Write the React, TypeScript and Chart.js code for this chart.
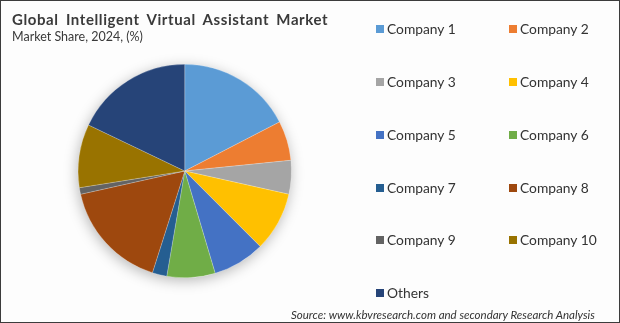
import React, { useEffect, useRef } from "react";
import { Chart, registerables } from "chart.js";

Chart.register(...registerables);

const categories = [
  "Company 1",
  "Company 2",
  "Company 3",
  "Company 4",
  "Company 5",
  "Company 6",
  "Company 7",
  "Company 8",
  "Company 9",
  "Company 10",
  "Others",
];
const shares = [17.4, 6.0, 5.1, 9.0, 7.9, 7.3, 2.2, 16.6, 1.0, 9.6, 17.9];
const colors = [
  "#5B9BD5",
  "#ED7D31",
  "#A5A5A5",
  "#FFC000",
  "#4472C4",
  "#70AD47",
  "#255E91",
  "#9E480E",
  "#636363",
  "#997300",
  "#264478",
];

const titleText = "Global Intelligent Virtual Assistant Market";
const subtitleText = "Market Share, 2024, (%)";
const sourceText = "Source: www.kbvresearch.com and secondary Research Analysis";

const shadowPlugin = {
  id: "pieShadow",
  beforeDatasetsDraw(chart: any) {
    const meta = chart.getDatasetMeta(0);
    const arc = meta.data[0];
    if (!arc) return;
    const { x, y, outerRadius } = arc.getProps(["x", "y", "outerRadius"], true);
    const ctx = chart.ctx;
    ctx.save();
    ctx.shadowColor = "rgba(0,0,0,0.28)";
    ctx.shadowBlur = 14;
    ctx.shadowOffsetX = -1;
    ctx.shadowOffsetY = 3;
    ctx.fillStyle = "#ffffff";
    ctx.beginPath();
    ctx.arc(x, y, outerRadius, 0, Math.PI * 2);
    ctx.fill();
    ctx.restore();
  },
};

export default function App() {
  const ref = useRef<HTMLCanvasElement | null>(null);

  useEffect(() => {
    document.body.style.margin = "0";
    if (!ref.current) return;
    const chart = new Chart(ref.current, {
      type: "pie",
      data: {
        labels: categories,
        datasets: [
          {
            data: shares,
            backgroundColor: colors,
            borderColor: "rgba(255,255,255,0.35)",
            borderWidth: 0.6,
          },
        ],
      },
      options: {
        responsive: false,
        animation: false,
        layout: { padding: { left: 77.5, right: 328, top: 64, bottom: 45 } },
        plugins: {
          legend: { display: false },
          title: { display: false },
          tooltip: { enabled: false },
        },
      },
      plugins: [shadowPlugin],
    });
    return () => chart.destroy();
  }, []);

  const rowCenters = [28.5, 82, 135, 187.5, 240, 293];
  const colX = [376, 509];

  return (
    <div
      style={{
        position: "relative",
        width: 620,
        height: 323,
        background: "#FDFDFD",
        overflow: "hidden",
        fontFamily: "Lato, 'Open Sans', sans-serif",
      }}
    >
      <canvas
        ref={ref}
        width={620}
        height={323}
        style={{ position: "absolute", left: 0, top: 0, width: 620, height: 323 }}
      />
      <div
        style={{
          position: "absolute",
          left: 12,
          top: 9,
          fontSize: 15,
          fontWeight: 700,
          letterSpacing: 0.6,
          wordSpacing: 3,
          color: "#3A3A3A",
          whiteSpace: "nowrap",
          lineHeight: "20px",
        }}
      >
        {titleText}
      </div>
      <div
        style={{
          position: "absolute",
          left: 12,
          top: 29,
          fontSize: 12.5,
          color: "#3A3A3A",
          whiteSpace: "nowrap",
          lineHeight: "16px",
        }}
      >
        {subtitleText}
      </div>
      {categories.map((c, i) => {
        const row = Math.floor(i / 2);
        const col = i % 2;
        const cy = rowCenters[row];
        return (
          <div
            key={c}
            style={{
              position: "absolute",
              left: colX[col],
              top: cy - 10,
              height: 20,
              display: "flex",
              alignItems: "center",
              whiteSpace: "nowrap",
            }}
          >
            <span
              style={{
                display: "inline-block",
                width: 8,
                height: 8,
                background: colors[i],
                marginRight: 3,
              }}
            />
            <span style={{ fontSize: 13.8, color: "#333333", lineHeight: "20px" }}>{c}</span>
          </div>
        );
      })}
      <div
        style={{
          position: "absolute",
          left: 291,
          top: 307,
          fontSize: 11.5,
          fontStyle: "italic",
          color: "#333333",
          whiteSpace: "nowrap",
          lineHeight: "16px",
        }}
      >
        {sourceText}
      </div>
      <div
        style={{
          position: "absolute",
          left: 0,
          top: 0,
          width: 620,
          height: 323,
          boxSizing: "border-box",
          border: "1px solid #3C3C3C",
          pointerEvents: "none",
        }}
      />
    </div>
  );
}
